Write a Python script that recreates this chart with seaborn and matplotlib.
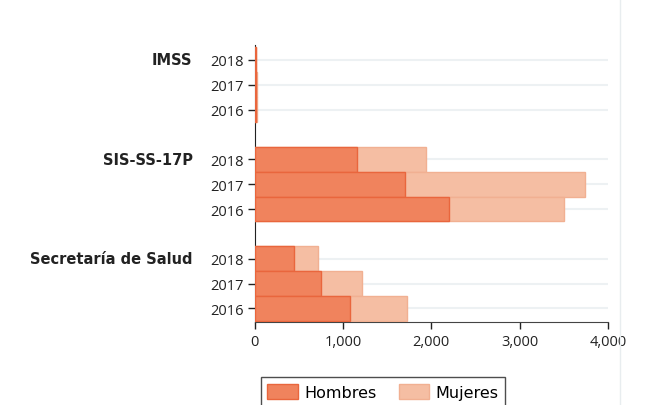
import matplotlib.pyplot as plt
import matplotlib.ticker as mticker
from matplotlib.lines import Line2D
import numpy as np
import pandas as pd
import seaborn as sns

instituciones = ["IMSS", "SIS-SS-17P", "Secretaría de Salud"]
anios = ["2018", "2017", "2016"]
hombres = {"IMSS": [14, 16, 15],
           "SIS-SS-17P": [1160, 1700, 2205],
           "Secretaría de Salud": [440, 755, 1080]}
mujeres = {"IMSS": [5, 4, 5],
           "SIS-SS-17P": [775, 2045, 1295],
           "Secretaría de Salud": [280, 455, 645]}

# slots: 3 years per institution, blank slot between groups
rows = []
order = []
for i, inst in enumerate(instituciones):
    for j, a in enumerate(anios):
        key = inst + "|" + a
        order.append(key)
        rows.append({"slot": key, "Hombres": hombres[inst][j],
                     "total": hombres[inst][j] + mujeres[inst][j]})
    if i < len(instituciones) - 1:
        order.append("gap%d" % i)
df = pd.DataFrame(rows)

plt.rcParams['font.family'] = ['Open Sans', 'DejaVu Sans']
fig = plt.figure(figsize=(6.6, 4.06), dpi=100)
ax = fig.add_axes([0.386, 0.204, 0.535, 0.683])

c_h, e_h = "#f0835d", "#e9663d"
c_m, e_m = "#f5bea3", "#f1b092"

sns.barplot(data=df, x="total", y="slot", order=order, orient="h",
            color=c_m, edgecolor=e_m, linewidth=1, width=1.0,
            saturation=1, ax=ax, zorder=3)
sns.barplot(data=df, x="Hombres", y="slot", order=order, orient="h",
            color=c_h, edgecolor=e_h, linewidth=1, width=1.0,
            saturation=1, ax=ax, zorder=4)

ypos = [order.index(k) for k in df["slot"]]
ax.set_yticks(ypos)
ax.set_yticklabels([s.split("|")[1] for s in df["slot"]], fontsize=10.5,
                   color="#222222")
ax.set_ylim(10.55, -0.6)
ax.set_xlim(0, 4000)
ax.set_xticks([0, 1000, 2000, 3000, 4000])
ax.xaxis.set_major_formatter(mticker.FuncFormatter(lambda v, p: f"{int(v):,}"))
ax.tick_params(axis="x", labelsize=10.5, colors="#222222", length=5, width=1)
ax.tick_params(axis="y", length=5, width=1, colors="#222222", pad=3)
ax.set_xlabel("")
ax.set_ylabel("")

for y in ypos:
    ax.axhline(y, color="#edf1f3", lw=1.5, zorder=1)

for sp in ["top", "right"]:
    ax.spines[sp].set_visible(False)
ax.spines["left"].set_color("#222222")
ax.spines["bottom"].set_color("#444444")

for inst in instituciones:
    y = order.index(inst + "|2018")
    ax.text(-0.176, y, inst, transform=ax.get_yaxis_transform(),
            ha="right", va="center", fontsize=10.5, fontweight="bold",
            family="DejaVu Sans", color="#222222")

handles = [plt.Rectangle((0, 0), 1, 1, fc=c_h, ec=e_h, lw=1),
           plt.Rectangle((0, 0), 1, 1, fc=c_m, ec=e_m, lw=1)]
leg = fig.legend(handles, ["Hombres", "Mujeres"], loc="upper center",
                 bbox_to_anchor=(0.58, 0.088), ncol=2,
                 prop={"family": "DejaVu Sans", "size": 11.5},
                 frameon=True, fancybox=False, edgecolor="#222222",
                 handlelength=1.9, handleheight=1.1, handletextpad=0.4,
                 columnspacing=1.4, borderpad=0.4)
leg.get_frame().set_linewidth(1)

fig.add_artist(Line2D([0.939, 0.939], [0, 1], color="#e8edef", lw=1))

fig.savefig("out.png", dpi=100)
